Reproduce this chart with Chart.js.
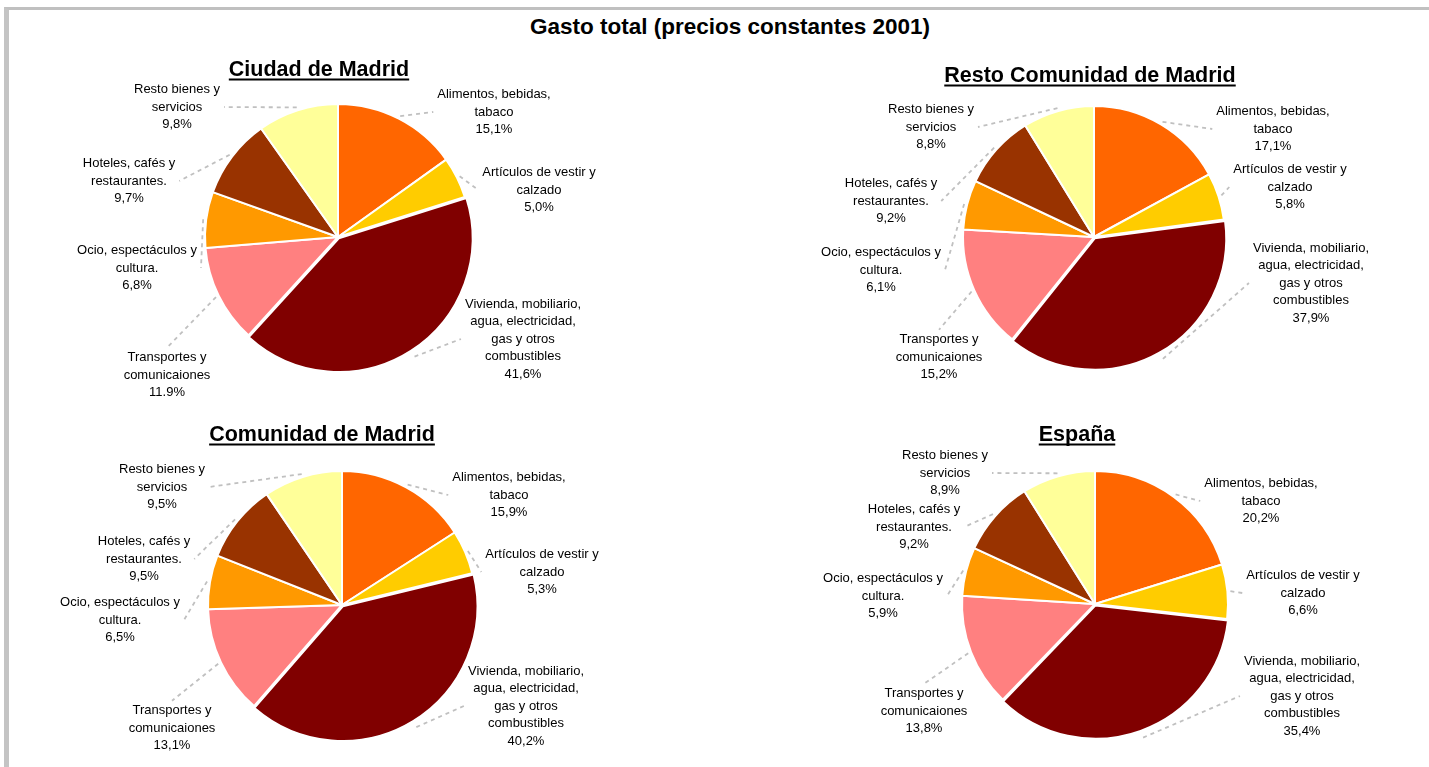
<!DOCTYPE html>
<html>
<head>
<meta charset="utf-8">
<script src="https://cdn.jsdelivr.net/npm/chart.js@4.4.1/dist/chart.umd.min.js"></script>
<style>
  html, body { margin: 0; padding: 0; background: #fff; overflow: hidden; }
  body { width: 1429px; height: 767px; position: relative; font-family: "Liberation Sans", Arial, sans-serif; }
  #frame { position: absolute; left: 4px; top: 7px; width: 1500px; height: 800px;
           border-top: 3px solid #c0c0c0; border-left: 5px solid #c4c4c4; }
  #mainTitle { position: absolute; left: 0; width: 1460px; top: 14px; text-align: center;
               font-weight: bold; font-size: 22.5px; line-height: 26px; color: #000; }
  canvas { position: absolute; }
</style>
</head>
<body>
<div id="frame"></div>
<div id="mainTitle">Gasto total (precios constantes 2001)</div>
<canvas id="c1" width="714" height="370" style="left:0;top:40px"></canvas>
<canvas id="c2" width="715" height="370" style="left:714px;top:40px"></canvas>
<canvas id="c3" width="714" height="357" style="left:0;top:410px"></canvas>
<canvas id="c4" width="715" height="357" style="left:714px;top:410px"></canvas>
<script>
// categories, clockwise from 12 o'clock
const categories = [
  ["Alimentos, bebidas,", "tabaco"],
  ["Artículos de vestir y", "calzado"],
  ["Vivienda, mobiliario,", "agua, electricidad,", "gas y otros", "combustibles"],
  ["Transportes y", "comunicaiones"],
  ["Ocio, espectáculos y", "cultura."],
  ["Hoteles, cafés y", "restaurantes."],
  ["Resto bienes y", "servicios"]
];

// % of total spending
const ciudadMadrid    = [15.1, 5.0, 41.6, 11.9, 6.8, 9.7, 9.8];
const restoComunidad  = [17.1, 5.8, 37.9, 15.2, 6.1, 9.2, 8.8];
const comunidadMadrid = [15.9, 5.3, 40.2, 13.1, 6.5, 9.5, 9.5];
const espana          = [20.2, 6.6, 35.4, 13.8, 5.9, 9.2, 8.9];

const sliceColors = ["#FF6600", "#FFCC00", "#800000", "#FF8080", "#FF9900", "#993300", "#FFFF99"];

const FONT = '"Liberation Sans", Arial, sans-serif';

// layout of each pie (centre, radius, title, label offsets from centre)
const charts = [
  { id: "c1", title: "Ciudad de Madrid", values: ciudadMadrid,
    cx: 338, cy: 197, r: 133, tx: 319, ty: 36, dot: [3],
    labelPos: [[156, -125], [201, -47], [185, 102], [-171, 138], [-201, 31], [-209, -56], [-161, -130]] },
  { id: "c2", title: "Resto Comunidad de Madrid", values: restoComunidad,
    cx: 380, cy: 197, r: 131, tx: 376, ty: 42, dot: [],
    labelPos: [[179, -108], [196, -50], [217, 46], [-155, 120], [-213, 33], [-203, -36], [-163, -110]] },
  { id: "c3", title: "Comunidad de Madrid", values: comunidadMadrid,
    cx: 342, cy: 195, r: 134, tx: 322, ty: 31, dot: [],
    labelPos: [[167, -110], [200, -33], [184, 101], [-170, 123], [-222, 15], [-198, -46], [-180, -118]] },
  { id: "c4", title: "España", values: espana,
    cx: 381, cy: 194, r: 133, tx: 363, ty: 31, dot: [],
    labelPos: [[166, -103], [208, -11], [207, 92], [-171, 107], [-212, -8], [-181, -77], [-150, -131]] }
];

function fmtPct(v, dot) {
  const s = v.toFixed(1);
  return (dot ? s : s.replace(".", ",")) + "%";
}

function makeTitlePlugin(cfg) {
  return {
    id: "underlinedTitle",
    afterDraw(chart) {
      const ctx = chart.ctx;
      ctx.save();
      ctx.font = "bold 21.5px " + FONT;
      ctx.fillStyle = "#000";
      ctx.textAlign = "center";
      ctx.textBaseline = "alphabetic";
      ctx.fillText(cfg.title, cfg.tx, cfg.ty);
      const w = ctx.measureText(cfg.title).width;
      ctx.fillRect(cfg.tx - w / 2, cfg.ty + 2.5, w, 2);
      ctx.restore();
    }
  };
}

function makeLabelPlugin(cfg) {
  return {
    id: "outLabels",
    afterDatasetsDraw(chart) {
      const ctx = chart.ctx;
      const meta = chart.getDatasetMeta(0);
      const data = chart.data.datasets[0].data;
      const lh = 17.5;
      ctx.save();
      ctx.font = "13px " + FONT;
      meta.data.forEach((arc, i) => {
        const p = arc.getProps(["x", "y", "startAngle", "endAngle", "outerRadius"], true);
        const mid = (p.startAngle + p.endAngle) / 2;
        const off = arc.options.offset || 0;
        const lines = chart.data.labels[i].concat(fmtPct(data[i], cfg.dot.includes(i)));
        const lx = p.x + cfg.labelPos[i][0];
        const ly = p.y + cfg.labelPos[i][1];
        const w = Math.max(...lines.map(l => ctx.measureText(l).width));
        const h = lines.length * lh;
        const top = ly - h / 2;

        // leader line: arc edge -> closest side midpoint of the label box
        const sr = p.outerRadius + off + 3;
        const sx = p.x + Math.cos(mid) * sr;
        const sy = p.y + Math.sin(mid) * sr;
        const anchors = [
          [lx - w / 2 - 4, ly], [lx + w / 2 + 4, ly],
          [lx, top - 1], [lx, top + h + 1]
        ];
        let best = anchors[0], bd = Infinity;
        anchors.forEach(a => {
          const d = Math.hypot(a[0] - sx, a[1] - sy);
          if (d < bd) { bd = d; best = a; }
        });
        if (bd > 8) {
          ctx.beginPath();
          ctx.setLineDash([4, 4]);
          ctx.lineWidth = 1.8;
          ctx.strokeStyle = "#c0c0c0";
          ctx.moveTo(sx, sy);
          ctx.lineTo(best[0], best[1]);
          ctx.stroke();
          ctx.setLineDash([]);
        }

        ctx.fillStyle = "#000";
        ctx.textAlign = "center";
        ctx.textBaseline = "middle";
        lines.forEach((l, k) => ctx.fillText(l, lx, top + lh * (k + 0.5)));
      });
      ctx.restore();
    }
  };
}

charts.forEach(cfg => {
  const canvas = document.getElementById(cfg.id);
  const W = canvas.width, H = canvas.height, m = 10;
  new Chart(canvas.getContext("2d"), {
    type: "pie",
    data: {
      labels: categories,
      datasets: [{
        data: cfg.values,
        backgroundColor: sliceColors,
        borderColor: "#ffffff",
        borderWidth: 2,
        offset: categories.map((c, i) => (i === 2 ? 6 : 0)),
        hoverOffset: 0
      }]
    },
    options: {
      responsive: false,
      animation: false,
      events: [],
      radius: cfg.r,
      layout: {
        padding: {
          left: cfg.cx - cfg.r - m,
          right: W - cfg.cx - cfg.r - m,
          top: cfg.cy - cfg.r - m,
          bottom: H - cfg.cy - cfg.r - m
        }
      },
      plugins: {
        legend: { display: false },
        title: { display: false },
        tooltip: { enabled: false }
      }
    },
    plugins: [makeLabelPlugin(cfg), makeTitlePlugin(cfg)]
  });
});
</script>
</body>
</html>
